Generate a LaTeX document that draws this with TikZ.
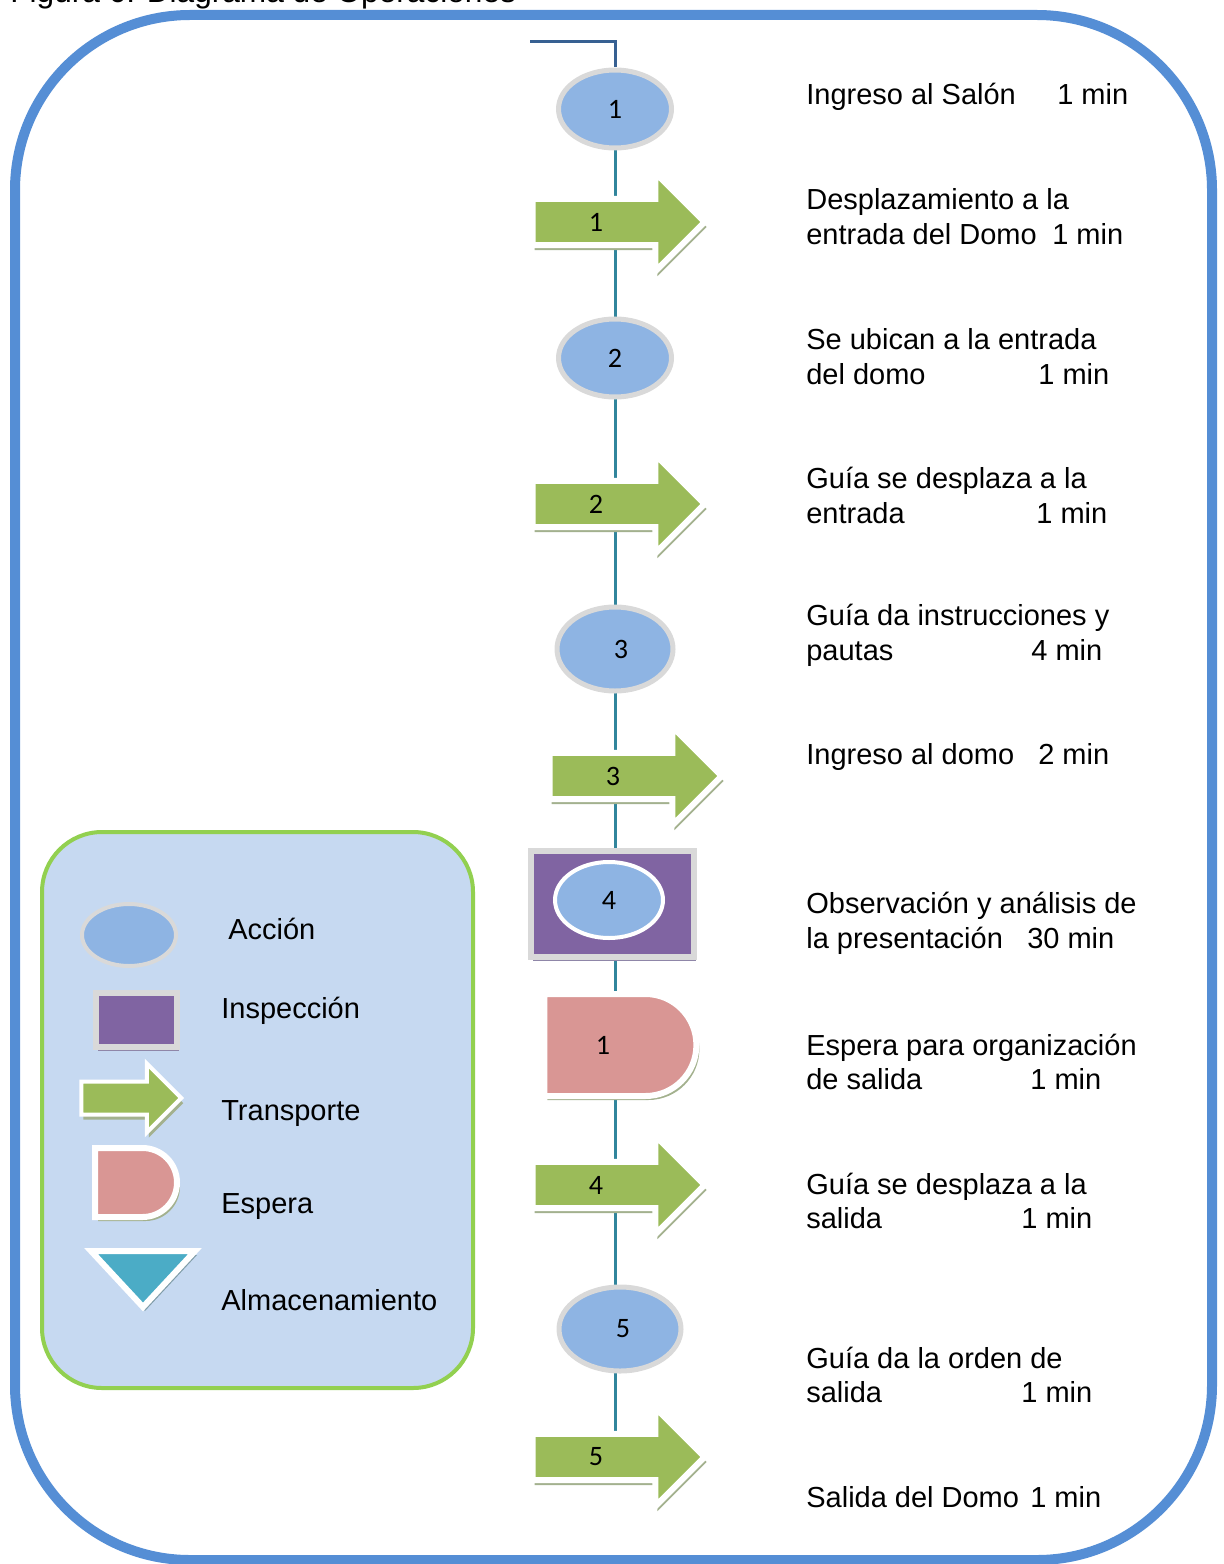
\documentclass[tikz,border=0pt]{standalone}
\usepackage{fontspec}
\setmainfont{Liberation Sans}
\newfontfamily\numfont{Carlito}
\usepackage{tikz}
\usetikzlibrary{positioning}
\usetikzlibrary{calc,shapes.geometric,shapes.arrows,shapes.misc,shadows,backgrounds}

\newlength\pxd
\setlength\pxd{0.02cm}
\newcommand\tmin[2]{\makebox[#1\pxd][l]{#2}}
\newcommand\desc{\fontsize{16.5}{19.8}\selectfont}

\definecolor{marcoazul}{HTML}{558ED5}
\definecolor{leyfondo}{HTML}{C6D9F1}
\definecolor{leyborde}{HTML}{92D050}
\definecolor{accfill}{HTML}{8EB4E3}
\definecolor{anillo}{HTML}{D9D9D9}
\definecolor{flecha}{HTML}{9BBB59}
\definecolor{inspfill}{HTML}{8064A2}
\definecolor{espfill}{HTML}{D99694}
\definecolor{almfill}{HTML}{4BACC6}
\definecolor{eje}{HTML}{31859C}
\definecolor{ejeini}{HTML}{376092}
\definecolor{sombraverde}{HTML}{A3B18E}
\definecolor{sombralila}{HTML}{8F86A8}
\definecolor{sombraazul}{HTML}{7F9CA8}

\begin{document}
\begin{tikzpicture}[x=0.02cm, y=-0.02cm,
  accion/.style={ellipse, fill=accfill, draw=anillo, line width=5\pxd, minimum width=113\pxd, minimum height=78\pxd, inner sep=0pt, font=\numfont\fontsize{16}{18}\selectfont},
  transporte/.style={single arrow, single arrow head extend=26\pxd, minimum height=172\pxd, minimum width=97\pxd, inner xsep=0pt, inner ysep=11\pxd, fill=flecha, draw=white, line width=6\pxd, drop shadow={shadow xshift=2\pxd, shadow yshift=-5\pxd, fill=sombraverde, opacity=1}, font=\numfont\fontsize{16}{18}\selectfont},
  inspeccion/.style={rectangle, fill=inspfill, draw=anillo, line width=6\pxd, inner sep=0pt, drop shadow={shadow xshift=2\pxd, shadow yshift=-4\pxd, fill=sombralila, opacity=1}},
  espera/.style={rounded rectangle, rounded rectangle left arc=none, fill=espfill, draw=white, line width=6\pxd, inner sep=0pt, drop shadow={shadow xshift=3\pxd, shadow yshift=-4\pxd, fill=sombraverde, opacity=1}, font=\numfont\fontsize{16}{18}\selectfont},
  spine/.style={draw=eje, line width=3\pxd},
  texto/.style={anchor=west, inner sep=0pt, align=left, font=\desc}]

\useasboundingbox (0,0) rectangle (1223,1564);
\clip (0,0) rectangle (1223,1564);

% titulo y marco
\node[anchor=base west, inner sep=0pt, font=\fontsize{18}{21}\selectfont] (titulo) at (10,3) {Figura 6. Diagrama de Operaciones};
\draw[marcoazul, line width=10\pxd, rounded corners=175\pxd] (15,15) rectangle (1212,1560);

% leyenda
\node[draw=leyborde, fill=leyfondo, line width=4\pxd, rounded corners=60\pxd, minimum width=431\pxd, minimum height=556\pxd] (leyenda) at (257.5,1110) {};
\node[accion, line width=4\pxd, minimum width=94\pxd, minimum height=62\pxd] (lacc) at (129,935) {};
\node[inspeccion, minimum width=81\pxd, minimum height=54\pxd] (linsp) at (136.5,1020) {};
\node[transporte, line width=4\pxd, minimum height=100\pxd, minimum width=66\pxd, single arrow head extend=18\pxd, inner ysep=14.5\pxd] (ltra) at (123,1098) {};
\node[espera, minimum width=82\pxd, minimum height=69\pxd] (lesp) at (136,1182.5) {};
\coordinate (lalm) at (143,1280);
\draw[fill=almfill, draw=white, line width=6\pxd, drop shadow={shadow xshift=2\pxd, shadow yshift=-4\pxd, fill=sombraazul, opacity=1}] ($(lalm)+(-52,-29)$) -- ($(lalm)+(52,-29)$) -- ($(lalm)+(0,27)$) -- cycle;
\node[texto] (tacc) at (228,929) {Acción};
\node[texto] (tinsp) at (221,1011) {Inspección};
\node[texto] (ttra) at (221,1114) {Transporte};
\node[texto] (tesp) at (221,1207) {Espera};
\node[texto] (talm) at (221,1300) {Almacenamiento};

% diagrama
\node[accion] (e1) at (615,109) {1};
\node[transporte] (a1) at (607,222) {1\hspace*{22\pxd}};
\node[accion] (e2) at (615,358) {2};
\node[transporte] (a2) at (607,504) {2\hspace*{22\pxd}};
\node[accion, minimum width=116\pxd, minimum height=84\pxd] (e3) at (615,649) {\hspace*{12\pxd}3};
\node[transporte] (a3) at (624,776) {3\hspace*{22\pxd}};
\node[inspeccion, minimum width=163\pxd, minimum height=106\pxd] (insp) at (612,904) {};
\node[accion, draw=white, line width=4\pxd, minimum width=108\pxd, minimum height=76\pxd] (e4) at (609,900) {4};
\node[espera, minimum width=152\pxd, minimum height=102\pxd] (w1) at (620,1045) {1\hspace*{34\pxd}};
\node[transporte] (a4) at (607,1185) {4\hspace*{22\pxd}};
\node[accion, minimum width=122\pxd, minimum height=84\pxd] (e5) at (620,1329) {\hspace*{6\pxd}5};
\node[transporte] (a5) at (607,1457) {5\hspace*{22\pxd}};

\coordinate (inicio) at (530,42);
\begin{scope}[on background layer]
\draw[ejeini, line width=3\pxd] (inicio) -| (e1.north);
\draw[spine] (e1) -- (e1 |- a1) -- (e1 |- e2) -- (e1 |- a2) -- (e1 |- e3) -- (e1 |- a3) -- (e1 |- insp) -- (e1 |- w1) -- (e1 |- a4) -- (e1 |- e5) -- (e1 |- a5);
\end{scope}

% descripciones
\node[texto] (t1) at (806,97) {\tmin{251}{Ingreso al Salón}1 min};
\node[texto] (t2) at (806,217) {Desplazamiento a la\\\tmin{246}{entrada del Domo}1 min};
\node[texto] (t3) at (806,356.5) {Se ubican a la entrada\\\tmin{232}{del domo}1 min};
\node[texto] (t4) at (806,495.5) {Guía se desplaza a la\\\tmin{230}{entrada}1 min};
\node[texto] (t5) at (806,635) {Guía da instrucciones y\\\tmin{225}{pautas}4 min};
\node[texto] (t6) at (806,757) {\tmin{232}{Ingreso al domo}2 min};
\node[texto] (t7) at (806,923) {Observación y análisis de\\\tmin{221}{la presentación}30 min};
\node[texto] (t8) at (806,1062) {Espera para organización\\\tmin{224}{de salida}1 min};
\node[texto] (t9) at (806,1201) {Guía se desplaza a la\\\tmin{215}{salida}1 min};
\node[texto] (t10) at (806,1375) {Guía da la orden de\\\tmin{215}{salida}1 min};
\node[texto] (t11) at (806,1497) {\tmin{224}{Salida del Domo}1 min};
\end{tikzpicture}
\end{document}
